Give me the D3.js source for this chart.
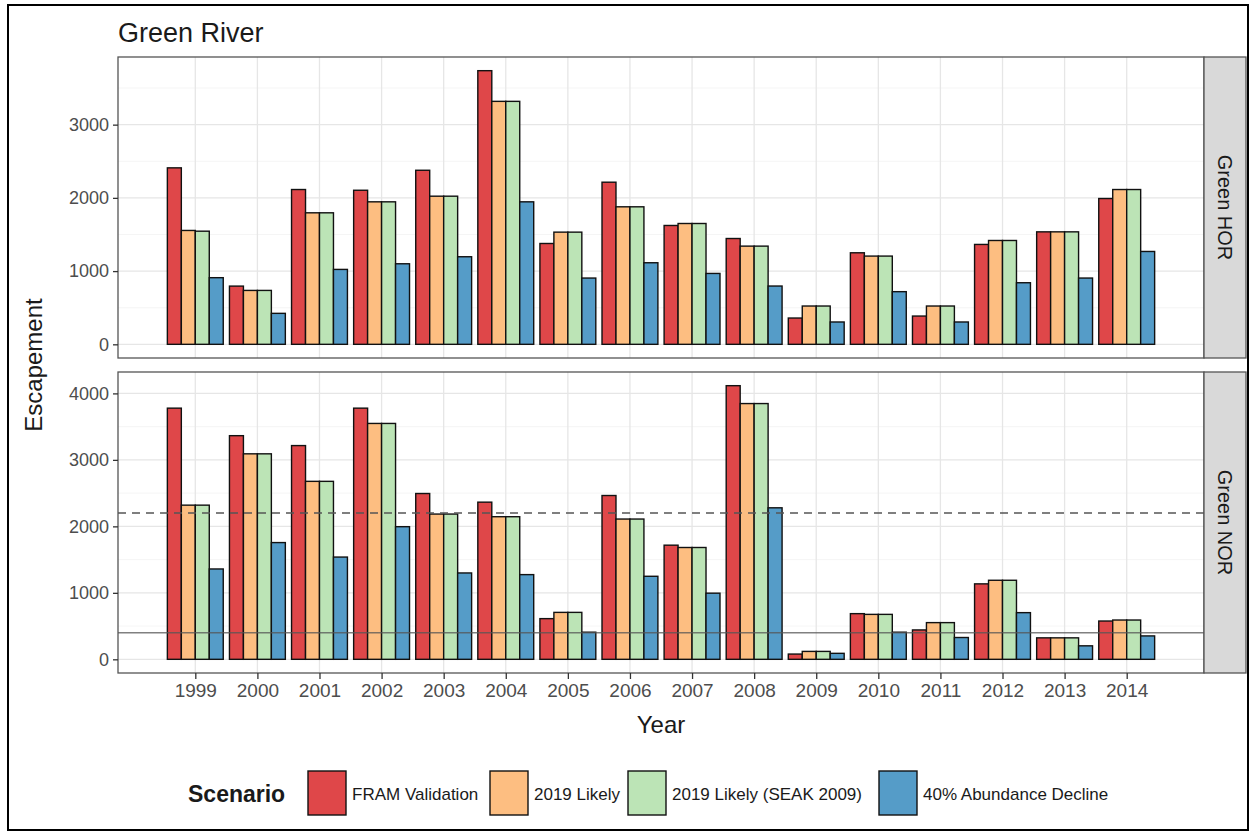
<!DOCTYPE html>
<html>
<head>
<meta charset="utf-8">
<script src="https://cdn.jsdelivr.net/npm/d3@7"></script>
<style>
  body { margin: 0; background: #fff; }
  text { font-family: "Liberation Sans", Arial, sans-serif; }
</style>
</head>
<body>
<div id="chart"></div>
<script>
// data
var years = [1999, 2000, 2001, 2002, 2003, 2004, 2005, 2006, 2007, 2008, 2009, 2010, 2011, 2012, 2013, 2014];
var scenarios = ["FRAM Validation", "2019 Likely", "2019 Likely (SEAK 2009)", "40% Abundance Decline"];
var colors = ["#df4749", "#fdbe81", "#bce4b6", "#559cc8"];
var panels = ["Green HOR", "Green NOR"];

var horFram    = [2410, 795, 2114, 2104, 2377, 3737, 1377, 2214, 1623, 1445, 359, 1250, 386, 1364, 1536, 1991];
var horLikely  = [1555, 736, 1796, 1946, 2023, 3318, 1532, 1878, 1650, 1341, 523, 1205, 523, 1418, 1536, 2114];
var horSeak    = [1545, 736, 1796, 1946, 2023, 3318, 1532, 1878, 1650, 1341, 523, 1205, 523, 1418, 1536, 2114];
var horDecline = [910, 423, 1023, 1100, 1196, 1946, 905, 1114, 968, 796, 305, 719, 305, 841, 905, 1268];

var norFram    = [3778, 3364, 3215, 3778, 2494, 2364, 612, 2464, 1717, 4116, 79, 687, 442, 1135, 323, 576];
var norLikely  = [2319, 3091, 2677, 3548, 2185, 2145, 706, 2110, 1682, 3847, 119, 676, 552, 1189, 323, 591];
var norSeak    = [2319, 3091, 2677, 3548, 2185, 2145, 706, 2110, 1682, 3847, 119, 676, 552, 1189, 323, 591];
var norDecline = [1359, 1756, 1538, 1995, 1299, 1274, 408, 1249, 995, 2279, 90, 408, 328, 702, 203, 352];

var horTicks = [0, 1000, 2000, 3000];
var norTicks = [0, 1000, 2000, 3000, 4000];
var norDashed = 2200;   // dashed reference line
var norSolid = 400;     // solid reference line

var W = 1254, H = 836;
var svg = d3.select("#chart").append("svg")
    .attr("width", W).attr("height", H);

// outer frame
svg.append("rect")
    .attr("x", 8).attr("y", 5).attr("width", 1240).attr("height", 825)
    .attr("fill", "#fff").attr("stroke", "#000").attr("stroke-width", 2);

// title
svg.append("text")
    .attr("x", 118).attr("y", 42)
    .attr("font-size", 27).attr("fill", "#1a1a1a")
    .text("Green River");

var left = 118, right = 1204;
var barW = 0.9, nS = scenarios.length;
var x = d3.scaleLinear()
    .domain([years[0] - barW / 2, years[years.length - 1] + barW / 2])
    .range([left, right]);
// ggplot style 5% expansion
var xd = x.domain(), xpad = (xd[1] - xd[0]) * 0.05;
x.domain([xd[0] - xpad, xd[1] + xpad]);

var panelDefs = [
  { name: panels[0], top: 57, bottom: 358, series: [horFram, horLikely, horSeak, horDecline], ticks: horTicks },
  { name: panels[1], top: 372, bottom: 673, series: [norFram, norLikely, norSeak, norDecline], ticks: norTicks }
];

panelDefs.forEach(function(p, pi) {
  var mx = d3.max(p.series, function(s) { return d3.max(s); });
  var y = d3.scaleLinear()
      .domain([-mx * 0.05, mx * 1.05])
      .range([p.bottom, p.top]);

  var g = svg.append("g");

  // minor gridlines
  var minor = p.ticks.map(function(t) { return t + 500; })
      .filter(function(t) { return t < y.domain()[1]; });
  g.selectAll(".minor").data(minor).enter().append("line")
      .attr("x1", left).attr("x2", right)
      .attr("y1", function(d) { return y(d); }).attr("y2", function(d) { return y(d); })
      .attr("stroke", "#f2f2f2").attr("stroke-width", 0.8);

  // major gridlines
  g.selectAll(".hgrid").data(p.ticks).enter().append("line")
      .attr("x1", left).attr("x2", right)
      .attr("y1", function(d) { return y(d); }).attr("y2", function(d) { return y(d); })
      .attr("stroke", "#e6e6e6").attr("stroke-width", 1.3);
  g.selectAll(".vgrid").data(years).enter().append("line")
      .attr("x1", function(d) { return x(d); }).attr("x2", function(d) { return x(d); })
      .attr("y1", p.top).attr("y2", p.bottom)
      .attr("stroke", "#e6e6e6").attr("stroke-width", 1.3);

  // bars
  p.series.forEach(function(vals, si) {
    g.selectAll(".bar" + si).data(years).enter().append("rect")
        .attr("x", function(d) { return x(d - barW / 2 + si * barW / nS); })
        .attr("width", function(d) { return x(d - barW / 2 + (si + 1) * barW / nS) - x(d - barW / 2 + si * barW / nS); })
        .attr("y", function(d, i) { return y(vals[i]); })
        .attr("height", function(d, i) { return y(0) - y(vals[i]); })
        .attr("fill", colors[si])
        .attr("stroke", "#111").attr("stroke-width", 1.4);
  });

  // reference lines on the NOR panel
  if (pi === 1) {
    g.append("line")
        .attr("x1", left).attr("x2", right)
        .attr("y1", y(norDashed)).attr("y2", y(norDashed))
        .attr("stroke", "#555").attr("stroke-width", 1.4)
        .attr("stroke-dasharray", "8,6");
    g.append("line")
        .attr("x1", left).attr("x2", right)
        .attr("y1", y(norSolid)).attr("y2", y(norSolid))
        .attr("stroke", "#555").attr("stroke-opacity", 0.75).attr("stroke-width", 1.4);
  }

  // panel border
  g.append("rect")
      .attr("x", left).attr("y", p.top)
      .attr("width", right - left).attr("height", p.bottom - p.top)
      .attr("fill", "none").attr("stroke", "#555").attr("stroke-width", 1.3);

  // strip
  g.append("rect")
      .attr("x", right).attr("y", p.top)
      .attr("width", 42).attr("height", p.bottom - p.top)
      .attr("fill", "#d9d9d9").attr("stroke", "#555").attr("stroke-width", 1.3);
  var cy = (p.top + p.bottom) / 2;
  g.append("text")
      .attr("transform", "translate(" + (right + 21) + "," + cy + ") rotate(90)")
      .attr("text-anchor", "middle").attr("dy", "0.35em")
      .attr("font-size", 20).attr("fill", "#1a1a1a")
      .text(p.name);

  // y axis
  var ya = svg.append("g")
      .attr("transform", "translate(" + left + ",0)")
      .call(d3.axisLeft(y).tickValues(p.ticks).tickFormat(d3.format("d")).tickSize(5).tickPadding(4));
  ya.select(".domain").remove();
  ya.selectAll(".tick line").attr("stroke", "#333").attr("stroke-width", 1.3);
  ya.selectAll(".tick text").attr("font-size", 18).attr("fill", "#4d4d4d")
      .attr("font-family", "Liberation Sans, Arial, sans-serif");

  // x axis only below the last panel
  if (pi === panelDefs.length - 1) {
    var xa = svg.append("g")
        .attr("transform", "translate(0," + p.bottom + ")")
        .call(d3.axisBottom(x).tickValues(years).tickFormat(d3.format("d")).tickSize(6).tickPadding(5));
    xa.select(".domain").remove();
    xa.selectAll(".tick line").attr("stroke", "#333").attr("stroke-width", 1.3);
    xa.selectAll(".tick text").attr("font-size", 19).attr("fill", "#4d4d4d")
        .attr("font-family", "Liberation Sans, Arial, sans-serif");
  }
});

// axis titles
svg.append("text")
    .attr("x", (left + right) / 2).attr("y", 733)
    .attr("text-anchor", "middle")
    .attr("font-size", 24).attr("fill", "#1a1a1a")
    .text("Year");
svg.append("text")
    .attr("transform", "translate(42," + (57 + 673) / 2 + ") rotate(-90)")
    .attr("text-anchor", "middle")
    .attr("font-size", 24).attr("fill", "#1a1a1a")
    .text("Escapement");

// legend
var legend = svg.append("g");
legend.append("text")
    .attr("x", 188).attr("y", 802)
    .attr("font-size", 23).attr("font-weight", "bold").attr("fill", "#1a1a1a")
    .text("Scenario");
var keyX = [308, 490, 628, 879];
scenarios.forEach(function(s, i) {
  legend.append("rect")
      .attr("x", keyX[i]).attr("y", 771)
      .attr("width", 38).attr("height", 44)
      .attr("fill", colors[i]).attr("stroke", "#111").attr("stroke-width", 1.4);
  legend.append("text")
      .attr("x", keyX[i] + 44).attr("y", 800)
      .attr("font-size", 17).attr("fill", "#1a1a1a")
      .text(s);
});
</script>
</body>
</html>
